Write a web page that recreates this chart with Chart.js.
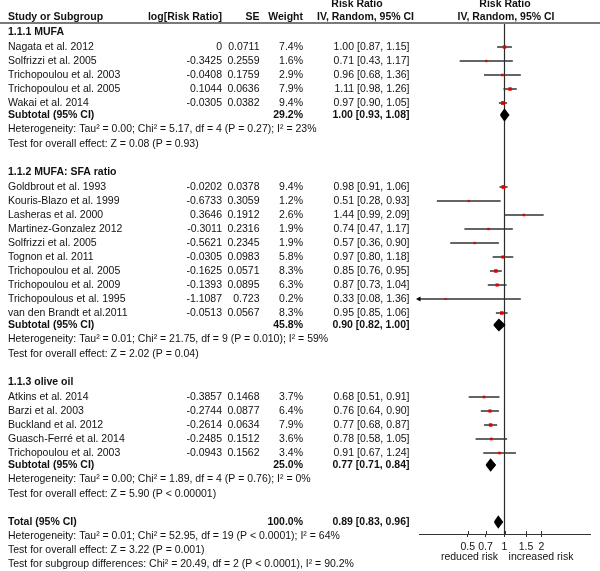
<!DOCTYPE html>
<html>
<head>
<meta charset="utf-8">
<script src="https://cdn.jsdelivr.net/npm/chart.js@4.4.1/dist/chart.umd.min.js"></script>
<style>
  html, body { margin: 0; padding: 0; background: #fff; }
  #wrap { width: 600px; height: 571px; }
</style>
</head>
<body>
<div id="wrap"><canvas id="forest" width="600" height="571"></canvas></div>
<script>
// subgroup titles
const groupTitles = ['1.1.1 MUFA', '1.1.2 MUFA: SFA ratio', '1.1.3 olive oil'];

// 1.1.1 MUFA
const mufaStudies = ['Nagata et al. 2012', 'Solfrizzi et al. 2005', 'Trichopoulou et al. 2003', 'Trichopoulou et al. 2005', 'Wakai et al. 2014'];
const mufaLogRR = ['0', '-0.3425', '-0.0408', '0.1044', '-0.0305'];
const mufaSE = ['0.0711', '0.2559', '0.1759', '0.0636', '0.0382'];
const mufaWeight = [7.4, 1.6, 2.9, 7.9, 9.4];
const mufaRR = [1.00, 0.71, 0.96, 1.11, 0.97];
const mufaLow = [0.87, 0.43, 0.68, 0.98, 0.90];
const mufaHigh = [1.15, 1.17, 1.36, 1.26, 1.05];

// 1.1.2 MUFA: SFA ratio
const ratioStudies = ['Goldbrout et al. 1993', 'Kouris-Blazo et al. 1999', 'Lasheras et al. 2000', 'Martinez-Gonzalez 2012', 'Solfrizzi et al. 2005', 'Tognon et al. 2011', 'Trichopoulou et al. 2005', 'Trichopoulou et al. 2009', 'Trichopoulous et al. 1995', 'van den Brandt et al.2011'];
const ratioLogRR = ['-0.0202', '-0.6733', '0.3646', '-0.3011', '-0.5621', '-0.0305', '-0.1625', '-0.1393', '-1.1087', '-0.0513'];
const ratioSE = ['0.0378', '0.3059', '0.1912', '0.2316', '0.2345', '0.0983', '0.0571', '0.0895', '0.723', '0.0567'];
const ratioWeight = [9.4, 1.2, 2.6, 1.9, 1.9, 5.8, 8.3, 6.3, 0.2, 8.3];
const ratioRR = [0.98, 0.51, 1.44, 0.74, 0.57, 0.97, 0.85, 0.87, 0.33, 0.95];
const ratioLow = [0.91, 0.28, 0.99, 0.47, 0.36, 0.80, 0.76, 0.73, 0.08, 0.85];
const ratioHigh = [1.06, 0.93, 2.09, 1.17, 0.90, 1.18, 0.95, 1.04, 1.36, 1.06];

// 1.1.3 olive oil
const oliveStudies = ['Atkins et al. 2014', 'Barzi et al. 2003', 'Buckland et al. 2012', 'Guasch-Ferré et al. 2014', 'Trichopoulou et al. 2003'];
const oliveLogRR = ['-0.3857', '-0.2744', '-0.2614', '-0.2485', '-0.0943'];
const oliveSE = ['0.1468', '0.0877', '0.0634', '0.1512', '0.1562'];
const oliveWeight = [3.7, 6.4, 7.9, 3.6, 3.4];
const oliveRR = [0.68, 0.76, 0.77, 0.78, 0.91];
const oliveLow = [0.51, 0.64, 0.68, 0.58, 0.67];
const oliveHigh = [0.91, 0.90, 0.87, 1.05, 1.24];

// subtotals, one per subgroup
const subWeight = [29.2, 45.8, 25.0];
const subRR = [1.00, 0.90, 0.77];
const subLow = [0.93, 0.82, 0.71];
const subHigh = [1.08, 1.00, 0.84];
const subHetText = [
  'Heterogeneity: Tau² = 0.00; Chi² = 5.17, df = 4 (P = 0.27); I² = 23%',
  'Heterogeneity: Tau² = 0.01; Chi² = 21.75, df = 9 (P = 0.010); I² = 59%',
  'Heterogeneity: Tau² = 0.00; Chi² = 1.89, df = 4 (P = 0.76); I² = 0%'
];
const subTestText = [
  'Test for overall effect: Z = 0.08 (P = 0.93)',
  'Test for overall effect: Z = 2.02 (P = 0.04)',
  'Test for overall effect: Z = 5.90 (P < 0.00001)'
];

// overall
const totalWeight = 100.0;
const totalRR = 0.89, totalLow = 0.83, totalHigh = 0.96;
const totalLines = [
  'Heterogeneity: Tau² = 0.01; Chi² = 52.95, df = 19 (P < 0.0001); I² = 64%',
  'Test for overall effect: Z = 3.22 (P = 0.001)',
  'Test for subgroup differences: Chi² = 20.49, df = 2 (P < 0.0001), I² = 90.2%'
];

// axis
const tickValues = [0.5, 0.7, 1, 1.5, 2];
const tickLabels = ['0.5', '0.7', '1', '1.5', '2'];
const xMin = 0.2, xMax = 5;

const groups = [
  { studies: mufaStudies, logRR: mufaLogRR, se: mufaSE, w: mufaWeight, rr: mufaRR, lo: mufaLow, hi: mufaHigh },
  { studies: ratioStudies, logRR: ratioLogRR, se: ratioSE, w: ratioWeight, rr: ratioRR, lo: ratioLow, hi: ratioHigh },
  { studies: oliveStudies, logRR: oliveLogRR, se: oliveSE, w: oliveWeight, rr: oliveRR, lo: oliveLow, hi: oliveHigh }
];

// lay the rows out top to bottom (y values are row positions)
const rows = [];
let pos = 32;
groups.forEach((g, gi) => {
  if (gi > 0) pos += 28;
  rows.push({ kind: 'group', text: groupTitles[gi], y: pos });
  pos += 15;
  g.studies.forEach((name, i) => {
    if (i > 0) pos += 14;
    rows.push({ kind: 'study', g: g, i: i, y: pos });
  });
  pos += 12;
  rows.push({ kind: 'subtotal', gi: gi, y: pos });
  pos += 14.5;
  rows.push({ kind: 'note', text: subHetText[gi], y: pos });
  pos += 14.5;
  rows.push({ kind: 'note', text: subTestText[gi], y: pos });
});
pos += 28;
rows.push({ kind: 'total', y: pos });
totalLines.forEach(t => { pos += 14; rows.push({ kind: 'note', text: t, y: pos }); });

const TOP = 23, BOTTOM = 534;

function ciText(r, l, h) {
  return r.toFixed(2) + ' [' + l.toFixed(2) + ', ' + h.toFixed(2) + ']';
}

// datasets built from the arrays
const ciData = [], squareData = [], squareSize = [], arrowData = [];
const diamonds = [];
rows.forEach(r => {
  if (r.kind === 'study') {
    const g = r.g, i = r.i;
    ciData.push({ x: Math.max(g.lo[i], xMin), y: r.y }, { x: Math.min(g.hi[i], xMax), y: r.y }, { x: 1, y: null });
    squareData.push({ x: g.rr[i], y: r.y });
    squareSize.push(1.4 + g.w[i] * 0.13);
    if (g.lo[i] < xMin) arrowData.push({ x: xMin, y: r.y });
  } else if (r.kind === 'subtotal') {
    diamonds.push({ rr: subRR[r.gi], lo: subLow[r.gi], hi: subHigh[r.gi], y: r.y });
  } else if (r.kind === 'total') {
    diamonds.push({ rr: totalRR, lo: totalLow, hi: totalHigh, y: r.y });
  }
});

// higher order is drawn first, so squares end up on top of the whiskers
const datasets = [
  {
    type: 'line', data: [{ x: 1, y: TOP }, { x: 1, y: BOTTOM }], order: 5,
    borderColor: '#2a2a2a', borderWidth: 1.2, pointRadius: 0, clip: false
  },
  {
    type: 'line', data: ciData, spanGaps: false, order: 4,
    borderColor: '#333', borderWidth: 1.3, pointRadius: 0
  },
  {
    type: 'scatter', data: squareData, pointStyle: 'rect', order: 0,
    pointRadius: squareSize, backgroundColor: '#e00000', borderWidth: 0
  },
  {
    type: 'scatter', data: arrowData, pointStyle: 'triangle', rotation: -90, order: 0,
    pointRadius: 3, backgroundColor: '#000', borderColor: '#000', borderWidth: 0, clip: false
  }
];
diamonds.forEach(d => {
  datasets.push({
    type: 'line', order: 1,
    data: [{ x: d.lo, y: d.y }, { x: d.rr, y: d.y - 5.5 }, { x: d.hi, y: d.y }, { x: d.rr, y: d.y + 5.5 }, { x: d.lo, y: d.y }],
    borderColor: '#000', borderWidth: 1.5, backgroundColor: '#000', fill: 'shape', pointRadius: 0, tension: 0
  });
});

const FONT = '"Liberation Sans", Arial, sans-serif';
const SIZE = 10.5;

// table text, header rule and the small upward tick halves
const tablePlugin = {
  id: 'table',
  afterDraw(chart) {
    const ctx = chart.ctx;
    const ys = chart.scales.y;
    const xs = chart.scales.x;
    ctx.save();
    ctx.fillStyle = '#111';
    ctx.textBaseline = 'middle';

    function txt(s, x, y, align, bold) {
      ctx.font = (bold ? 'bold ' : '') + SIZE + 'px ' + FONT;
      ctx.textAlign = align;
      ctx.fillText(s, x, y);
    }

    // header
    txt('Study or Subgroup', 8, 17, 'left', true);
    txt('log[Risk Ratio]', 222, 17, 'right', true);
    txt('SE', 259.5, 17, 'right', true);
    txt('Weight', 303, 17, 'right', true);
    txt('Risk Ratio', 357, 4.5, 'center', true);
    txt('IV, Random, 95% CI', 365.5, 17, 'center', true);
    txt('Risk Ratio', 505, 4.5, 'center', true);
    txt('IV, Random, 95% CI', 506, 17, 'center', true);

    rows.forEach(r => {
      const y = ys.getPixelForValue(r.y);
      if (r.kind === 'group') {
        txt(r.text, 8, y, 'left', true);
      } else if (r.kind === 'study') {
        const g = r.g, i = r.i;
        txt(g.studies[i], 8, y, 'left', false);
        txt(g.logRR[i], 222, y, 'right', false);
        txt(g.se[i], 259.5, y, 'right', false);
        txt(g.w[i].toFixed(1) + '%', 303, y, 'right', false);
        txt(ciText(g.rr[i], g.lo[i], g.hi[i]), 409.5, y, 'right', false);
      } else if (r.kind === 'subtotal') {
        txt('Subtotal (95% CI)', 8, y, 'left', true);
        txt(subWeight[r.gi].toFixed(1) + '%', 303, y, 'right', true);
        txt(ciText(subRR[r.gi], subLow[r.gi], subHigh[r.gi]), 409.5, y, 'right', true);
      } else if (r.kind === 'total') {
        txt('Total (95% CI)', 8, y, 'left', true);
        txt(totalWeight.toFixed(1) + '%', 303, y, 'right', true);
        txt(ciText(totalRR, totalLow, totalHigh), 409.5, y, 'right', true);
      } else {
        txt(r.text, 8, y, 'left', false);
      }
    });

    // axis captions
    txt('reduced risk', 469.5, 557, 'center', false);
    txt('increased risk', 541, 557, 'center', false);

    // header rule
    ctx.fillStyle = '#7a7a7a';
    ctx.fillRect(0, 22, 600, 2);

    // upper halves of the tick marks
    ctx.strokeStyle = '#333';
    ctx.lineWidth = 1;
    tickValues.forEach(v => {
      const px = Math.round(xs.getPixelForValue(v)) + 0.5;
      ctx.beginPath();
      ctx.moveTo(px, chart.chartArea.bottom - 3);
      ctx.lineTo(px, chart.chartArea.bottom);
      ctx.stroke();
    });
    ctx.restore();
  }
};

new Chart(document.getElementById('forest'), {
  type: 'scatter',
  data: { datasets: datasets },
  options: {
    responsive: false,
    animation: false,
    events: [],
    layout: { padding: { left: 419, right: 10, top: TOP, bottom: 0 } },
    plugins: { legend: { display: false }, tooltip: { enabled: false } },
    scales: {
      x: {
        type: 'logarithmic',
        min: xMin,
        max: xMax,
        afterBuildTicks: scale => { scale.ticks = tickValues.map(v => ({ value: v })); },
        afterFit: scale => { scale.height = 571 - BOTTOM; },
        ticks: {
          autoSkip: false, maxRotation: 0, padding: 4,
          color: '#111', font: { family: FONT, size: SIZE },
          callback: (val) => { const k = tickValues.indexOf(val); return k >= 0 ? tickLabels[k] : ''; }
        },
        grid: { drawOnChartArea: false, drawTicks: true, tickLength: 3, color: '#333' },
        border: { display: true, color: '#333' }
      },
      y: {
        type: 'linear', display: false, reverse: true, min: TOP, max: BOTTOM
      }
    }
  },
  plugins: [tablePlugin]
});
</script>
</body>
</html>
